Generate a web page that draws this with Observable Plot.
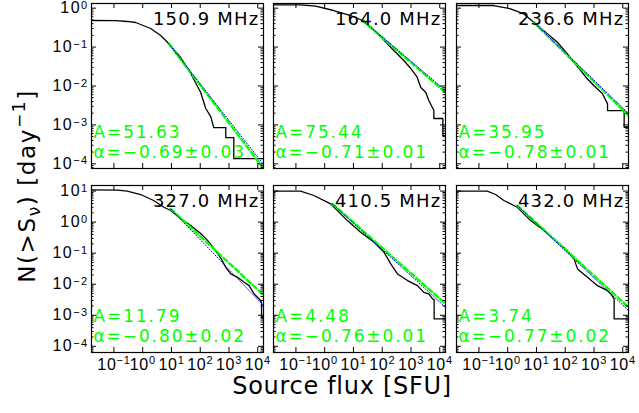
<!DOCTYPE html>
<html>
<head>
<meta charset="utf-8">
<script src="https://cdn.jsdelivr.net/npm/d3@7"></script>
<script src="https://cdn.jsdelivr.net/npm/@observablehq/plot@0.6"></script>
<style>
  body { margin: 0; background: #fff; }
  #fig { position: relative; width: 639px; height: 413px; overflow: hidden; background: #fff;
         font-family: "Liberation Sans", Arial, sans-serif; }
  #fig svg { position: absolute; }
  g[aria-label="y-axis tick label"] { letter-spacing: 1.4px; }
  g[aria-label="x-axis tick label"] { letter-spacing: 0.7px; }
</style>
</head>
<body>
<div id="fig"></div>
<script>
// Observing frequencies and power-law fit parameters
const freqLabels = ["150.9 MHz", "164.0 MHz", "236.6 MHz", "327.0 MHz", "410.5 MHz", "432.0 MHz"];
const fitA = [51.63, 75.44, 35.95, 11.79, 4.48, 3.74];
const fitAlpha = [-0.69, -0.71, -0.78, -0.80, -0.76, -0.77];
const fitErr = [0.03, 0.01, 0.01, 0.02, 0.01, 0.02];

// Cumulative event rate N(>S) [day^-1] versus source flux S [SFU]
const s150 = [0.016, 0.12, 0.3, 0.57, 1.9, 4.2, 7.4, 21, 47, 104, 156, 232, 296, 774, 774, 1470, 1470, 17000];
const n150 = [0.482, 0.48, 0.455, 0.428, 0.300, 0.198, 0.131, 0.054, 0.0209, 0.00679, 0.00264, 0.00164, 0.000855, 0.000855, 0.000474, 0.000474, 0.000136, 0.000136];
const s164 = [0.016, 0.145, 0.48, 2.05, 8.0, 20.9, 70, 252, 562, 986, 1600, 2200, 3280, 4180, 6240, 6240, 12850, 12850, 17000];
const n164 = [1.21, 1.21, 1.135, 0.871, 0.648, 0.482, 0.223, 0.0817, 0.0452, 0.0281, 0.0175, 0.00914, 0.00679, 0.00423, 0.00234, 0.00146, 0.00146, 0.000533, 0.000533];
const s236 = [0.016, 0.32, 1.26, 3.58, 8.0, 24.0, 53.6, 119, 198, 347, 519, 986, 1980, 2960, 2960, 11200, 11200, 17000];
const n236 = [1.17, 1.17, 0.964, 0.716, 0.436, 0.219, 0.133, 0.0671, 0.0408, 0.0250, 0.0168, 0.0103, 0.0063, 0.00348, 0.00234, 0.00234, 0.000871, 0.000871];
const s327 = [0.016, 0.134, 0.291, 0.845, 2.40, 5.48, 9.4, 20.9, 46.7, 104, 183, 303, 519, 774, 1156, 1982, 3365, 5020, 7500, 11200, 13580, 13580, 17000];
const n327 = [11.0, 10.8, 9.91, 7.76, 4.97, 3.02, 2.37, 1.28, 0.774, 0.428, 0.254, 0.140, 0.0693, 0.0350, 0.0214, 0.0167, 0.0115, 0.0090, 0.00485, 0.00335, 0.0026, 0.000853, 0.000853];
const s410 = [0.016, 0.145, 0.42, 1.61, 6.14, 17.8, 51.9, 116, 198, 339, 757, 1687, 2793, 4178, 5620, 6380, 6380, 17000];
const n410 = [9.91, 9.91, 7.21, 3.89, 1.12, 0.471, 0.224, 0.106, 0.0452, 0.0214, 0.0131, 0.0090, 0.00547, 0.00485, 0.00335, 0.00318, 0.000759, 0.000759];
const s432 = [0.016, 0.195, 0.379, 0.738, 2.16, 6.28, 18.3, 53.6, 119, 203, 267, 594, 1324, 2958, 3855, 5020, 5020, 17000];
const n432 = [9.91, 9.91, 7.76, 4.97, 3.02, 1.12, 0.536, 0.224, 0.121, 0.0653, 0.0311, 0.0167, 0.0090, 0.00619, 0.00485, 0.00335, 0.000759, 0.000759];

// Fitted power laws: common start point, end point at the high-flux edge
const fitStartS = [8.0, 20.9, 8.0, 9.4, 1.84, 2.16];
const fitStartN = [0.123, 0.482, 0.436, 2.68, 3.89, 3.43];
const fitEndS = 16000;
const dashEndN = [7.6e-5, 0.00679, 0.00174, 0.00445, 0.00231, 0.00179];
const dotEndN = [9.6e-5, 0.00766, 0.00196, 0.00204, 0.00179, 0.00141];

// Axis ticks
const xDecades = [0.1, 1, 10, 100, 1000, 10000];
const yDecadesTop = [1e-4, 1e-3, 1e-2, 1e-1, 1];
const yDecadesBottom = [1e-4, 1e-3, 1e-2, 1e-1, 1, 10];

const flux = [s150, s164, s236, s327, s410, s432];
const rate = [n150, n164, n236, n327, n410, n432];

// Layout
const xDomain = [10 ** -1.78, 10 ** 4.2];
const yDomains = [[10 ** -4.12, 10 ** 0.12], [10 ** -4.2, 10 ** 1.18]];
const frameLefts = [91, 273, 456];
const frameTops = [3, 185];
const frameW = 172;
const frameHs = [165, 167];
const green = "#00ff00";
const blue = "#0000ff";
const wideFont = "DejaVu Sans, Verdana, sans-serif";

const exponent = d => String(Math.round(Math.log10(d)));
const minus = v => v.toFixed(2).replace("-", "\u2212");

function minorTicks([lo, hi]) {
  const out = [];
  for (let e = Math.floor(Math.log10(lo)); e <= Math.ceil(Math.log10(hi)); e++) {
    for (let k = 2; k <= 9; k++) {
      const v = k * 10 ** e;
      if (v >= lo && v <= hi) out.push(v);
    }
  }
  return out;
}

// Turn an exponent label into "10" with a raised exponent
function powerLabels(svg, axis, supSize, rise) {
  d3.select(svg).selectAll(`g[aria-label="${axis}-axis tick label"] text`).each(function () {
    const e = this.textContent.replace("-", "\u2212");
    const t = d3.select(this);
    t.text("10");
    t.append("tspan").attr("font-size", supSize).attr("dy", -rise).text(e);
  });
}

function panel(i) {
  const row = Math.floor(i / 3), col = i % 3;
  const H = frameHs[row];
  const ml = col === 0 ? 91 : 4, mr = 14, mt = row === 0 ? 3 : 4, mb = row === 1 ? 40 : 4;
  const yTicks = row === 0 ? yDecadesTop : yDecadesBottom;
  const yMinor = minorTicks(yDomains[row]);
  const curve = flux[i].map((s, j) => ({s, n: rate[i][j]}));
  const dash = [{s: fitStartS[i], n: fitStartN[i]}, {s: fitEndS, n: dashEndN[i]}];
  const dot = [{s: fitStartS[i], n: fitStartN[i]}, {s: fitEndS, n: dotEndN[i]}];

  const marks = [
    Plot.line(curve, {x: "s", y: "n", stroke: "black", strokeWidth: 1.3, clip: true}),
    Plot.line(dash, {x: "s", y: "n", stroke: green, strokeWidth: 2.4, strokeDasharray: "5,3", clip: true}),
    Plot.line(dot, {x: "s", y: "n", stroke: blue, strokeWidth: 1, strokeDasharray: "1,1.8", clip: true}),
    // inward tick marks on all four sides
    Plot.tickX(xDecades, {x: d => d, insetTop: H - 5, stroke: "black"}),
    Plot.tickX(xDecades, {x: d => d, insetBottom: H - 5, stroke: "black"}),
    Plot.tickY(yTicks, {y: d => d, insetRight: frameW - 5, stroke: "black"}),
    Plot.tickY(yTicks, {y: d => d, insetLeft: frameW - 5, stroke: "black"}),
    Plot.tickY(yMinor, {y: d => d, insetRight: frameW - 2.5, stroke: "black"}),
    Plot.tickY(yMinor, {y: d => d, insetLeft: frameW - 2.5, stroke: "black"}),
    Plot.frame({stroke: "black", strokeWidth: 1.2}),
    Plot.text([freqLabels[i]], {frameAnchor: "top-right", lineAnchor: "top", textAnchor: "end",
      dx: -4, dy: 9, fontSize: 18, fontFamily: wideFont, fill: "black"}),
    Plot.text([`A=${fitA[i].toFixed(2)}`], {frameAnchor: "bottom-left", lineAnchor: "bottom", textAnchor: "start",
      dx: 2, dy: -31, fontSize: 17, fontFamily: wideFont, fill: green}),
    Plot.text([`\u03b1=${minus(fitAlpha[i])}\u00b1${fitErr[i].toFixed(2)}`], {frameAnchor: "bottom-left",
      lineAnchor: "bottom", textAnchor: "start", dx: 2, dy: -10.5, fontSize: 17, fontFamily: wideFont,
      fill: green})
  ];
  if (col === 0) {
    marks.push(Plot.axisY({ticks: yTicks, tickFormat: exponent, tickSize: 0, tickPadding: 3, fontSize: 16,
      anchor: "left", label: null}));
  }
  if (row === 1) {
    marks.push(Plot.axisX({ticks: xDecades, tickFormat: exponent, tickSize: 0, tickPadding: 6, fontSize: 16,
      anchor: "bottom", label: null}));
  }
  const svg = Plot.plot({
    width: ml + frameW + mr,
    height: mt + H + mb,
    marginLeft: ml, marginRight: mr, marginTop: mt, marginBottom: mb,
    x: {type: "log", domain: xDomain, axis: null},
    y: {type: "log", domain: yDomains[row], axis: null},
    style: {fontFamily: "Liberation Sans, Arial, sans-serif", fontSize: "16px", background: "transparent",
            overflow: "visible", color: "black"},
    marks
  });
  powerLabels(svg, "y", 11, 4.5);
  powerLabels(svg, "x", 11, 6);
  // spacing for the wide annotation lettering
  d3.select(svg).selectAll("text").each(function () {
    const t = this.textContent;
    if (t.startsWith("A=") || t.startsWith("\u03b1=")) this.style.letterSpacing = "1.9px";
    else if (t.endsWith("MHz")) this.style.letterSpacing = "1.2px";
  });
  svg.style.left = `${frameLefts[col] - ml}px`;
  svg.style.top = `${frameTops[row] - mt}px`;
  svg.style.maxWidth = "none";
  return svg;
}

const fig = document.getElementById("fig");
for (let i = 0; i < 6; i++) fig.appendChild(panel(i));

// Axis titles with sub- and superscripts
const over = d3.select(fig).append("svg")
  .attr("width", 639).attr("height", 413)
  .style("left", "0px").style("top", "0px").style("pointer-events", "none")
  .attr("font-family", wideFont);

const yt = over.append("text")
  .attr("transform", "translate(35,186) rotate(-90)")
  .attr("text-anchor", "middle").attr("font-size", 23).style("letter-spacing", "1.6px");
yt.append("tspan").text("N(>S");
yt.append("tspan").attr("font-size", 17).attr("dy", 5).text("\u03bd");
yt.append("tspan").attr("dy", -5).text(") [day");
yt.append("tspan").attr("font-size", 17).attr("dy", -10).text("\u22121");
yt.append("tspan").attr("dy", 10).text("]");

over.append("text")
  .attr("x", 342).attr("y", 394)
  .attr("text-anchor", "middle").attr("font-size", 24).style("letter-spacing", "0.7px")
  .text("Source flux [SFU]");
</script>
</body>
</html>
